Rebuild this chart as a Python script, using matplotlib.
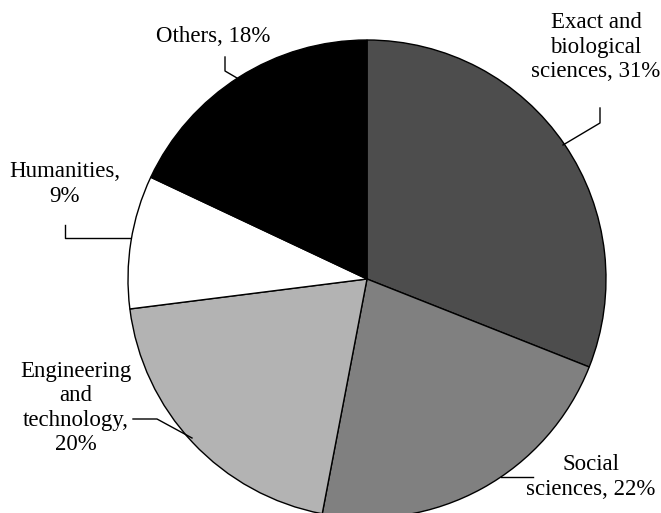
import matplotlib.pyplot as plt

# data
labels = ['Exact and\nbiological\nsciences, 31%', 'Social\nsciences, 22%',
          'Engineering\nand\ntechnology,\n20%', 'Humanities,\n9%', 'Others, 18%']
shares = [31, 22, 20, 9, 18]
colors = ['#4d4d4d', '#808080', '#b3b3b3', '#ffffff', '#000000']

W, H = 661, 513

# label centre positions and leader lines in pixel coords (y from top)
label_pos = [(596, 47), (591, 477), (76, 408), (65, 184), (213, 36)]
leaders = [
    [(600, 108), (600, 123), (563, 145)],
    [(501, 477), (533, 477)],
    [(133, 419), (157, 419), (192, 438)],
    [(65, 225), (65, 238), (130, 238)],
    [(225, 57), (225, 71), (237, 78)],
]

plt.rcParams['font.family'] = ['Liberation Serif', 'DejaVu Serif']

fig = plt.figure(figsize=(W / 100, H / 100), dpi=100)
ax = fig.add_axes([0, 0, 1, 1])

ax.pie(shares, colors=colors, startangle=90, counterclock=False,
       center=(367, H - 279), radius=239, frame=True,
       wedgeprops=dict(edgecolor='black', linewidth=1.0))
ax.set_xlim(0, W)
ax.set_ylim(0, H)
ax.axis('off')

for lab, (x, y) in zip(labels, label_pos):
    ax.text(x, H - y, lab, ha='center', va='center', fontsize=16.5,
            linespacing=1.22, color='black')

for pts in leaders:
    xs = [p[0] for p in pts]
    ys = [H - p[1] for p in pts]
    ax.plot(xs, ys, color='black', linewidth=1.0)

fig.savefig('out.png', dpi=100)
